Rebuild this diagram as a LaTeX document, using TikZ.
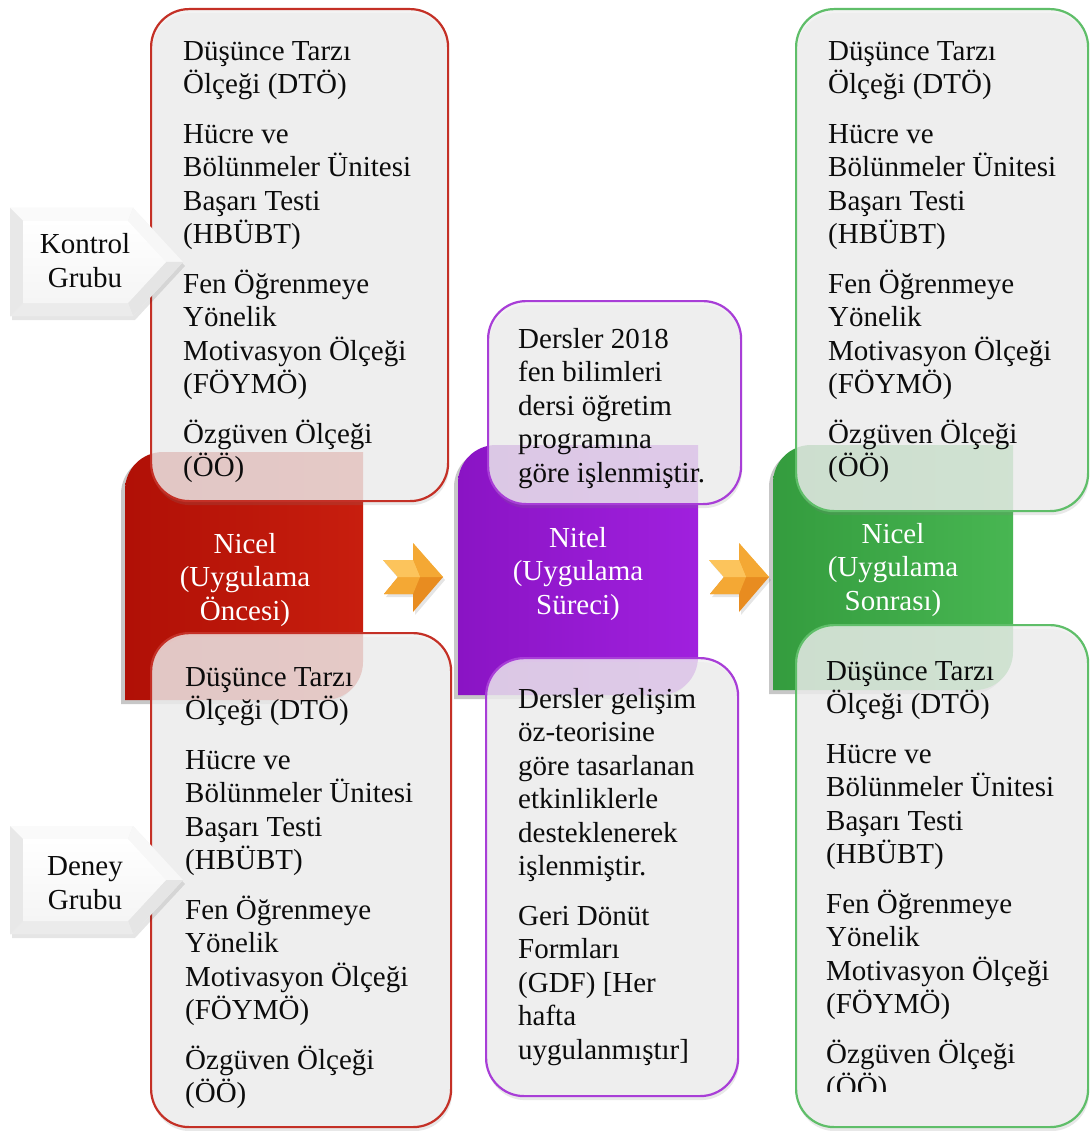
\documentclass[tikz,border=0pt]{standalone}
\usepackage{fontspec}
\setmainfont{Liberation Serif}
\usetikzlibrary{shadows}

\definecolor{redA}{RGB}{176,16,6}
\definecolor{redB}{RGB}{200,30,14}
\definecolor{purA}{RGB}{138,20,196}
\definecolor{purB}{RGB}{160,32,222}
\definecolor{grnA}{RGB}{52,156,62}
\definecolor{grnB}{RGB}{72,182,82}
\definecolor{redline}{RGB}{196,48,38}
\definecolor{purline}{RGB}{168,62,215}
\definecolor{grnline}{RGB}{95,190,105}
\definecolor{boxfill}{RGB}{240,240,240}
\definecolor{txt}{RGB}{12,12,12}
\definecolor{orA}{RGB}{252,196,92}
\definecolor{orB}{RGB}{244,168,52}
\definecolor{orC}{RGB}{232,140,32}

\newcommand\firststrut{\rule{0pt}{27pt}}

\tikzset{
  listbox/.style={draw=#1, line width=2.2pt, rounded corners=38pt,
    fill=boxfill, fill opacity=0.8, draw opacity=1, inner sep=0pt,
    anchor=north west,
    drop shadow={shadow xshift=1pt, shadow yshift=-4pt, opacity=0.18}},
  listtext/.style={anchor=north west, inner sep=0pt, align=left,
    font=\fontsize{29pt}{33.5pt}\selectfont, text=txt},
  phasetext/.style={anchor=north, inner sep=0pt, align=center,
    font=\fontsize{29pt}{33.5pt}\selectfont, text=white},
  signtext/.style={anchor=north, inner sep=0pt, align=center,
    font=\fontsize{29pt}{34.5pt}\selectfont, text=txt},
  % bevelled pentagon sign, origin at its top-left corner
  sign/.pic={
    \fill[black, opacity=0.10] (2,4) -- (125,4) -- (175,58) -- (125,112) -- (2,112) -- cycle;
    \fill[gray!12] (0,0) -- (123,0) -- (173,54) -- (123,108) -- (0,108) -- cycle;
    \fill[gray!4]  (0,0) -- (123,0) -- (118,13) -- (13,13) -- cycle;
    \fill[gray!6]  (123,0) -- (173,54) -- (156,54) -- (118,13) -- cycle;
    \fill[gray!20] (173,54) -- (123,108) -- (118,95) -- (156,54) -- cycle;
    \fill[gray!16] (123,108) -- (0,108) -- (13,95) -- (118,95) -- cycle;
    \fill[gray!18] (0,108) -- (0,0) -- (13,13) -- (13,95) -- cycle;
    \shade[top color=white, bottom color=gray!8]
      (13,13) -- (118,13) -- (156,54) -- (118,95) -- (13,95) -- cycle;
  },
  % faceted orange arrow, origin at the notch of its tail
  chevarrow/.pic={
    \fill[black, opacity=0.10] (-13,-14) -- (17,-14) -- (17,-31) -- (47,3) -- (17,38) -- (17,20) -- (-12,20) -- (2,3) -- cycle;
    \fill[orA] (-15,-17) -- (15,-17) -- (15,-34) -- (45,0) -- (0,0) -- cycle;
    \fill[orC] (0,0) -- (45,0) -- (15,35) -- (15,17) -- (-14,17) -- cycle;
    \fill[orB] (15,-17) -- (15,-34) -- (45,0) -- (22,0) -- cycle;
    \fill[orB] (-14,17) -- (15,17) -- (22,0) -- (0,0) -- cycle;
    \fill[orA] (-15,-17) -- (15,-17) -- (22,0) -- (0,0) -- cycle;
  }
}

\begin{document}
\begin{tikzpicture}[x=1pt, y=-1pt]
\useasboundingbox (0,0) rectangle (1091,1131);
\fill[white] (0,0) rectangle (1091,1131);

% ---------- phase blocks (round diagonal corners) ----------
\fill[black, opacity=0.22]
  (121,704) -- (121,494) .. controls (121,473) and (138,456) .. (159,456)
  -- (359,456) -- (359,666) .. controls (359,687) and (342,704) .. (321,704) -- cycle;
\shade[left color=redA, right color=redB]
  (125,700) -- (125,490) .. controls (125,469) and (142,452) .. (163,452)
  -- (363,452) -- (363,662) .. controls (363,683) and (346,700) .. (325,700) -- cycle;

\fill[black, opacity=0.22]
  (454,699) -- (454,487) .. controls (454,466) and (471,449) .. (492,449)
  -- (694,449) -- (694,661) .. controls (694,682) and (677,699) .. (656,699) -- cycle;
\shade[left color=purA, right color=purB]
  (458,695) -- (458,483) .. controls (458,462) and (475,445) .. (496,445)
  -- (698,445) -- (698,657) .. controls (698,678) and (681,695) .. (660,695) -- cycle;

\fill[black, opacity=0.22]
  (769,694) -- (769,487) .. controls (769,466) and (786,449) .. (807,449)
  -- (1009,449) -- (1009,656) .. controls (1009,677) and (992,694) .. (971,694) -- cycle;
\shade[left color=grnA, right color=grnB]
  (773,690) -- (773,483) .. controls (773,462) and (790,445) .. (811,445)
  -- (1013,445) -- (1013,652) .. controls (1013,673) and (996,690) .. (975,690) -- cycle;

\node[phasetext] (pre)  at (245,526) {\firststrut Nicel\\(Uygulama\\Öncesi)};
\node[phasetext] (proc) at (578,520) {\firststrut Nitel\\(Uygulama\\Süreci)};
\node[phasetext] (post) at (893,516) {\firststrut Nicel\\(Uygulama\\Sonrası)};

% ---------- list boxes ----------
\node[listbox=redline, minimum width=297pt, minimum height=492pt] (rtb) at (150,8) {};
\node[listbox=redline, minimum width=300pt, minimum height=494pt] (rbb) at (150,632) {};
\node[listbox=purline, minimum width=253pt, minimum height=203pt] (ptb) at (487,300) {};
\node[listbox=purline, minimum width=252pt, minimum height=438pt] (pbb) at (485,657) {};
\node[listbox=grnline, minimum width=292pt, minimum height=502pt] (gtb) at (795,8) {};
\node[listbox=grnline, minimum width=292pt, minimum height=502pt] (gbb) at (795,624) {};

% ---------- list texts ----------
\node[listtext] (rtt) at (183,33) {\firststrut Düşünce Tarzı\\Ölçeği (DTÖ)\\[16pt]
  Hücre ve\\Bölünmeler Ünitesi\\Başarı Testi\\(HBÜBT)\\[16pt]
  Fen Öğrenmeye\\Yönelik\\Motivasyon Ölçeği\\(FÖYMÖ)\\[16pt]
  Özgüven Ölçeği\\(ÖÖ)};
\node[listtext] (rbt) at (185,659) {\firststrut Düşünce Tarzı\\Ölçeği (DTÖ)\\[16pt]
  Hücre ve\\Bölünmeler Ünitesi\\Başarı Testi\\(HBÜBT)\\[16pt]
  Fen Öğrenmeye\\Yönelik\\Motivasyon Ölçeği\\(FÖYMÖ)\\[16pt]
  Özgüven Ölçeği\\(ÖÖ)};
\node[listtext] (ptt) at (518,321) {\firststrut Dersler 2018\\fen bilimleri\\dersi öğretim\\programına\\göre işlenmiştir.};
\node[listtext] (pbt) at (518,681) {\firststrut Dersler gelişim\\öz-teorisine\\göre tasarlanan\\etkinliklerle\\desteklenerek\\işlenmiştir.\\[16pt]
  Geri Dönüt\\Formları\\(GDF) [Her\\hafta\\uygulanmıştır]};
\node[listtext] (gtt) at (828,33) {\firststrut Düşünce Tarzı\\Ölçeği (DTÖ)\\[16pt]
  Hücre ve\\Bölünmeler Ünitesi\\Başarı Testi\\(HBÜBT)\\[16pt]
  Fen Öğrenmeye\\Yönelik\\Motivasyon Ölçeği\\(FÖYMÖ)\\[16pt]
  Özgüven Ölçeği\\(ÖÖ)};
\begin{scope}
  \clip (780,600) rectangle (1091,1091);
  \node[listtext] (gbt) at (826,653) {\firststrut Düşünce Tarzı\\Ölçeği (DTÖ)\\[16pt]
    Hücre ve\\Bölünmeler Ünitesi\\Başarı Testi\\(HBÜBT)\\[16pt]
    Fen Öğrenmeye\\Yönelik\\Motivasyon Ölçeği\\(FÖYMÖ)\\[16pt]
    Özgüven Ölçeği\\(ÖÖ)};
\end{scope}

% ---------- group signs ----------
\pic at (10,208) {sign};
\node[signtext] (kg) at (85,226) {\firststrut Kontrol\\Grubu};
\pic at (10,826) {sign};
\node[signtext] (dg) at (85,848) {\firststrut Deney\\Grubu};

% ---------- arrows between phases ----------
\pic at (398,577) {chevarrow};
\pic at (724,577) {chevarrow};
\end{tikzpicture}
\end{document}
